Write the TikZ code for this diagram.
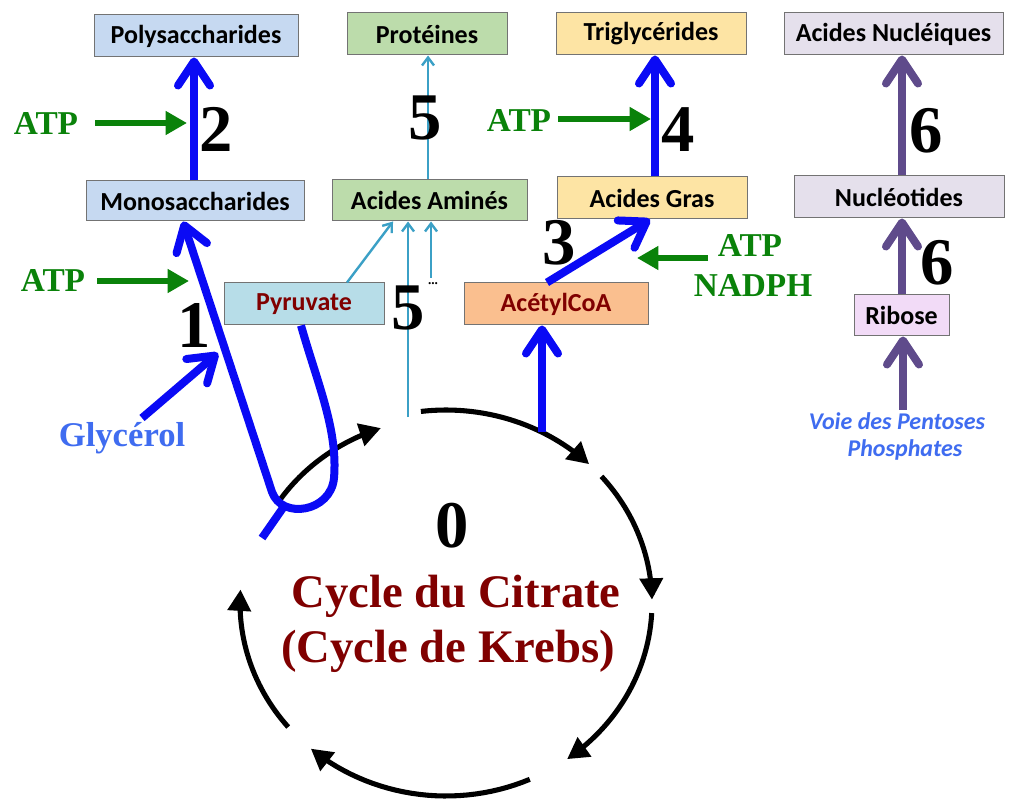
\documentclass[tikz,border=0pt]{standalone}
\usepackage{fontspec}
\setmainfont{Liberation Serif}
\newfontfamily\boxfont{Carlito}
\usetikzlibrary{arrows.meta,calc}
\definecolor{bxblue}{HTML}{C6D9F1}
\definecolor{bxgreen}{HTML}{BCDCAB}
\definecolor{bxyellow}{HTML}{FDE4A4}
\definecolor{bxlav}{HTML}{E5E0EC}
\definecolor{bxpink}{HTML}{F2DBF7}
\definecolor{bxpyr}{HTML}{B7DDE8}
\definecolor{bxacoa}{HTML}{FABF8F}
\definecolor{darkred}{HTML}{800000}
\definecolor{atpgreen}{HTML}{0A820A}
\definecolor{arrblue}{HTML}{0A0AF5}
\definecolor{tealc}{HTML}{3BA0C6}
\definecolor{purp}{HTML}{5F4B8B}
\definecolor{glyblue}{HTML}{3F6CF0}
\begin{document}
\begin{tikzpicture}[x=0.75pt,y=-0.75pt,
  box/.style={draw=black!55, line width=0.75pt, minimum height=31.5pt, inner sep=0pt,
    font=\boxfont\bfseries\fontsize{19.5}{22}\selectfont},
  bluearr/.style={draw=arrblue, line width=6pt, -{Straight Barb[length=18pt,width=24pt,round]}},
  blueline/.style={draw=arrblue, line width=6pt},
  purparr/.style={draw=purp, line width=6pt, -{Straight Barb[length=18pt,width=24pt,round]}},
  tealarr/.style={draw=tealc, line width=1.8pt, -{Straight Barb[length=6pt,width=9pt]}},
  greenarr/.style={draw=atpgreen, line width=5pt, -{Triangle[length=16pt,width=17pt]}},
  cyc/.style={draw=black, line width=3.8pt, -{Triangle[length=16pt,width=17pt]}},
  atp/.style={text=atpgreen, font=\bfseries\fontsize{25}{28}\selectfont, anchor=base, inner sep=0pt},
  num/.style={text=black, font=\bfseries\fontsize{50}{55}\selectfont, anchor=base, inner sep=0pt},
  cyctext/.style={text=darkred, font=\bfseries\fontsize{35}{40}\selectfont, anchor=base, inner sep=0pt}
]
\useasboundingbox[fill=white] (0,0) rectangle (1010,805);

% boxes
\node[box, fill=bxblue, minimum width=153pt] (poly) at (196,36) {Polysaccharides};
\node[box, fill=bxblue, minimum width=163.5pt, minimum height=30pt] (mono) at (195,201) {Monosaccharides};
\node[box, fill=bxgreen, minimum width=120pt] (prot) at (427,34) {Protéines};
\node[box, fill=bxgreen, minimum width=146.25pt, minimum height=30.75pt] (aa) at (429.5,200.5) {Acides Aminés};
\node[box, fill=bxyellow, minimum width=142.5pt] (tri) at (651,34) {Triglycérides};
\node[box, fill=bxyellow, minimum width=142.5pt] (ag) at (652,198) {Acides Gras};
\node[box, fill=bxlav, minimum width=164.25pt] (an) at (893.5,34) {Acides Nucléiques};
\node[box, fill=bxlav, minimum width=157.5pt] (nuc) at (899,197) {Nucléotides};
\node[box, fill=bxpink, minimum width=71.25pt, minimum height=30.75pt] (rib) at (901.5,315.5) {Ribose};
\node[box, fill=bxpyr, minimum width=120pt, text=darkred] (pyr) at (304,304) {Pyruvate};
\node[box, fill=bxacoa, minimum width=138pt, text=darkred] (acoa) at (556,304) {AcétylCoA};

% citrate cycle arcs
\draw[cyc] plot[domain=-146:-109, samples=30, variable=\t] ({446+200*cos(\t)},{603+185*sin(\t)});
\draw[cyc] plot[domain=-97:-46, samples=30, variable=\t] ({446+206*cos(\t)},{603+193*sin(\t)});
\draw[cyc] plot[domain=-41:-1, samples=30, variable=\t] ({446+206*cos(\t)},{603+193*sin(\t)});
\draw[cyc] plot[domain=3:54, samples=30, variable=\t] ({446+206*cos(\t)},{603+193*sin(\t)});
\draw[cyc] plot[domain=66:131, samples=30, variable=\t] ({446+206*cos(\t)},{603+193*sin(\t)});
\draw[cyc] plot[domain=140:184, samples=30, variable=\t] ({446+206*cos(\t)},{603+193*sin(\t)});

% cycle texts
\node[num] (n0) at (452,547) {0};
\node[cyctext] (cyc1) at (456,607) {Cycle du Citrate};
\node[cyctext] (cyc2) at (448,662) {(Cycle de Krebs)};

% coordinates for free ends
\coordinate (glyS) at (142,418);
\coordinate (glyT) at (218,353);
\coordinate (tailA) at (262,538);
\coordinate (tailB) at (285,505);
\coordinate (aaS) at (408,417);
\coordinate (dotS) at (431,278);
\coordinate (acS) at (542,432);
\coordinate (ppS) at (903,410);
\coordinate (gA1) at (95,123); \coordinate (gA2) at (187,123);
\coordinate (gB1) at (97,281); \coordinate (gB2) at (189,281);
\coordinate (gC1) at (558,119); \coordinate (gC2) at (651,119);
\coordinate (gD1) at (708,258); \coordinate (gD2) at (637,258);

% blue arrows
\draw[bluearr] ($(mono.north)+(-1,0)$) -- ($(poly.south)+(-2,0)$);
\draw[bluearr] ($(pyr.south)+(-3,0)$) .. controls (318,385) and (338,430) .. (334,478)
   .. controls (331,512) and (282,520) .. (272,492) -- ($(mono.south)+(-12,0)$);
\draw[blueline] (tailA) -- (tailB);
\draw[bluearr] (glyS) -- (glyT);
\draw[bluearr] (acS) -- ($(acoa.south)+(-14,0)$);
\draw[bluearr] ($(acoa.north)+(-9,0)$) -- ($(ag.south)+(-2,0)$);
\draw[bluearr] ($(ag.north)+(3,0)$) -- ($(tri.south)+(4,0)$);

% teal arrows
\draw[tealarr] ($(pyr.north)+(43,0)$) -- ($(aa.south)+(-36.5,0)$);
\draw[tealarr] (aaS) -- ($(aa.south)+(-21.5,0)$);
\draw[tealarr] (dotS) -- ($(aa.south)+(1.5,0)$);
\draw[tealarr] ($(aa.north)+(-1.5,0)$) -- ($(prot.south)+(1,0)$);

% purple arrows
\draw[purparr] ($(nuc.north)+(3,0)$) -- ($(an.south)+(8.5,0)$);
\draw[purparr] ($(rib.north)+(0.5,0)$) -- ($(nuc.south)+(3,0)$);
\draw[purparr] (ppS) -- ($(rib.south)+(1.5,0)$);

% green arrows
\draw[greenarr] (gA1) -- (gA2);
\draw[greenarr] (gB1) -- (gB2);
\draw[greenarr] (gC1) -- (gC2);
\draw[greenarr] (gD1) -- (gD2);

% labels
\node[atp] (atpA) at (46,135) {ATP};
\node[atp] (atpB) at (53,292) {ATP};
\node[atp] (atpC) at (519,132) {ATP};
\node[atp] (atpD) at (750,257) {ATP};
\node[atp] (nadph) at (753,297) {NADPH};
\node[text=glyblue, font=\bfseries\fontsize{26}{28}\selectfont, anchor=base, inner sep=0pt] (gly) at (122,446) {Glycérol};
\node[text=glyblue, font=\boxfont\bfseries\itshape\fontsize{18}{20}\selectfont, anchor=base, inner sep=0pt] (voie1) at (897,430) {Voie des Pentoses};
\node[text=glyblue, font=\boxfont\bfseries\itshape\fontsize{18}{20}\selectfont, anchor=base, inner sep=0pt] (voie2) at (905,456) {Phosphates};

\node[num] (n2) at (216,152) {2};
\node[num] (n5a) at (425,140) {5};
\node[num] (n4) at (678,152) {4};
\node[num] (n6a) at (926,153) {6};
\node[num] (n1) at (194,348) {1};
\node[num] (n5b) at (408,330) {5};
\node[font=\bfseries\fontsize{10}{10}\selectfont, inner sep=0pt, anchor=base] (dots) at (433,285) {...};
\node[num] (n3) at (559,265) {3};
\node[num] (n6b) at (937,285) {6};
\end{tikzpicture}
\end{document}
